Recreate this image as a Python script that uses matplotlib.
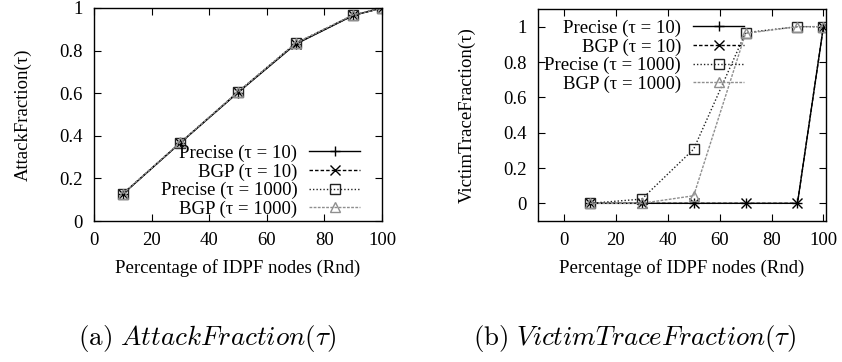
import matplotlib
matplotlib.use('Agg')
from matplotlib import pyplot as plt
from matplotlib.ticker import FuncFormatter

plt.rcParams['font.family'] = ['Liberation Serif', 'DejaVu Serif']
plt.rcParams['mathtext.fontset'] = 'cm'

# data
pct = [10, 30, 50, 70, 90, 100]

attack_precise10 = [0.126, 0.367, 0.603, 0.830, 0.965, 1.0]
attack_bgp10 = [0.127, 0.368, 0.605, 0.832, 0.966, 1.0]
attack_precise1000 = [0.127, 0.368, 0.606, 0.835, 0.967, 1.0]
attack_bgp1000 = [0.128, 0.369, 0.606, 0.834, 0.968, 1.0]

victim_precise10 = [0.0, 0.0, 0.0, 0.0, 0.0, 1.0]
victim_bgp10 = [0.0, 0.0, 0.0, 0.0, 0.0, 1.0]
victim_precise1000 = [0.0, 0.024, 0.307, 0.966, 1.0, 1.0]
victim_bgp1000 = [0.0, 0.0, 0.043, 0.962, 1.0, 1.0]

labels = ['Precise (τ = 10)', 'BGP (τ = 10)', 'Precise (τ = 1000)', 'BGP (τ = 1000)']

# style per series: color, linestyle, marker
styles = [
    dict(color='black', linestyle='-', marker='+'),
    dict(color='black', linestyle=(0, (2.5, 1.5)), marker='x'),
    dict(color='#222222', linestyle=(0, (1, 1.5)), marker='s', markerfacecolor='none'),
    dict(color='#8f8f8f', linestyle=(0, (2, 1)), marker='^', markerfacecolor='none'),
]

fs = 13.5
W, H = 842, 362
fig = plt.figure(figsize=(W / 100, H / 100), dpi=100)


def make_axes(left, right, top, bottom):
    return fig.add_axes([left / W, 1 - bottom / H, (right - left) / W, (bottom - top) / H])


def style_axes(ax):
    ax.tick_params(direction='in', length=5, width=0.8, top=True, right=True,
                   labelsize=fs, pad=8)
    for s in ax.spines.values():
        s.set_linewidth(1.0)
    ax.yaxis.set_major_formatter(FuncFormatter(lambda v, p: '%g' % round(v, 2)))
    ax.set_xlabel('Percentage of IDPF nodes (Rnd)', fontsize=fs, labelpad=7)


def plot_series(ax, series):
    for y, lab, st in zip(series, labels, styles):
        ax.plot(pct, y, label=lab, linewidth=1.0, markersize=6.5, markeredgewidth=1.0,
                markeredgecolor=st['color'], **st)


def add_legend(ax, loc, anchor):
    ax.legend(loc=loc, bbox_to_anchor=anchor, frameon=False, markerfirst=False,
              fontsize=fs, handlelength=2.7, handletextpad=0.65, labelspacing=0.07,
              borderaxespad=0, borderpad=0)


# (a) AttackFraction
ax1 = make_axes(94, 382, 8, 221)
plot_series(ax1, [attack_precise10, attack_bgp10, attack_precise1000, attack_bgp1000])
ax1.set_xlim(0, 100)
ax1.set_ylim(0, 1)
ax1.set_xticks(range(0, 101, 20))
ax1.set_yticks([0, 0.2, 0.4, 0.6, 0.8, 1.0])
style_axes(ax1)
ax1.set_ylabel('AttackFraction(τ)', fontsize=fs, labelpad=20)
add_legend(ax1, 'lower right', (0.924, 0.015))

# (b) VictimTraceFraction
ax2 = make_axes(538, 826, 9, 221)
plot_series(ax2, [victim_precise10, victim_bgp10, victim_precise1000, victim_bgp1000])
ax2.set_xlim(-10, 101)
ax2.set_ylim(-0.1, 1.1)
ax2.set_xticks(range(0, 101, 20))
ax2.set_yticks([0, 0.2, 0.4, 0.6, 0.8, 1.0])
style_axes(ax2)
ax2.set_ylabel('VictimTraceFraction(τ)', fontsize=fs, labelpad=20)
add_legend(ax2, 'upper right', (0.715, 0.95))

# captions
fig.text(207 / W, 1 - 338 / H, r'$\mathrm{(a)}\ AttackFraction(\tau)$', fontsize=19.5,
         ha='center', va='center')
fig.text(635 / W, 1 - 338 / H, r'$\mathrm{(b)}\ VictimTraceFraction(\tau)$', fontsize=19.3,
         ha='center', va='center')

fig.savefig('out.png', dpi=100)
